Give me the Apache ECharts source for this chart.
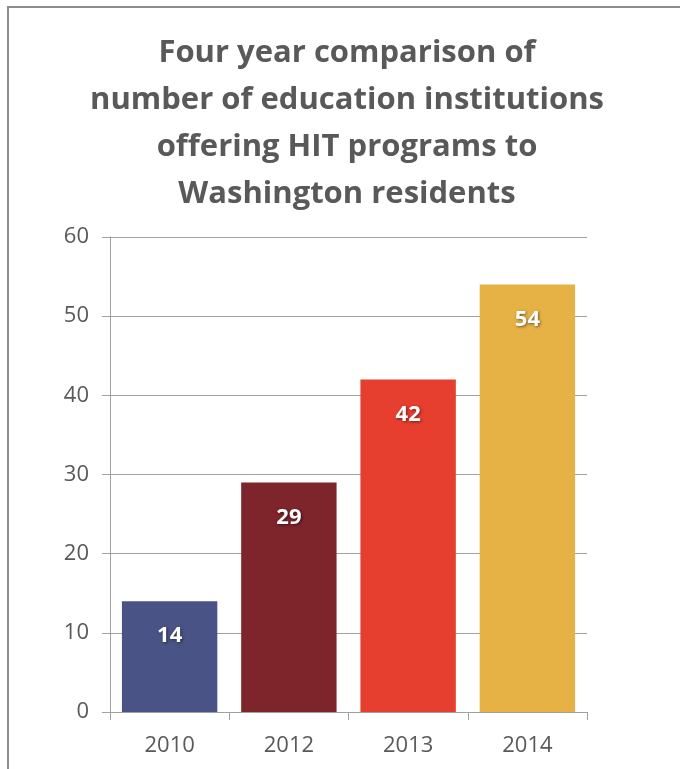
<!DOCTYPE html>
<html><head><meta charset="utf-8">
<script src="https://cdn.jsdelivr.net/npm/echarts@6/dist/echarts.min.js"></script>
<style>html,body{margin:0;padding:0;background:#fff}#c{width:680px;height:769px}</style>
</head><body><div id="c"></div>
<script>
const categories = ['2010', '2012', '2013', '2014'];
const values = [14, 29, 42, 54];
const barColors = ['#4A5386', '#7E252B', '#E63E2F', '#E6B245'];
const yTicks = [0, 10, 20, 30, 40, 50, 60];
const titleText = 'Four year comparison of\nnumber of education institutions\noffering HIT programs to\nWashington residents';

const chart = echarts.init(document.getElementById('c'), null, {renderer: 'canvas'});
chart.setOption({
  animation: false,
  graphic: [{
    type: 'rect', shape: {x: 8, y: 7, width: 800, height: 900},
    style: {fill: 'none', stroke: '#8c8c8c', lineWidth: 2}, silent: true, z: -1
  }],
  title: {
    text: titleText, left: 342, top: 25, textAlign: 'center',
    textStyle: {fontFamily: 'Open Sans', fontWeight: 'bold', fontSize: 31, lineHeight: 47, color: '#595959'}
  },
  grid: {left: 110, right: 93, top: 237, bottom: 57},
  xAxis: {
    type: 'category', data: categories,
    axisLine: {lineStyle: {color: '#a0a0a0', width: 1}},
    axisTick: {show: true, length: 8, lineStyle: {color: '#a0a0a0'}},
    axisLabel: {color: '#595959', fontSize: 22, fontFamily: 'Open Sans', margin: 23}
  },
  yAxis: {
    type: 'value', min: yTicks[0], max: yTicks[yTicks.length - 1], interval: 10,
    axisLine: {show: true, lineStyle: {color: '#a0a0a0', width: 1}},
    axisTick: {show: true, length: 8, lineStyle: {color: '#a0a0a0'}},
    splitLine: {lineStyle: {color: '#a0a0a0', width: 1}},
    axisLabel: {color: '#595959', fontSize: 22, fontFamily: 'Open Sans', margin: 21}
  },
  series: [{
    type: 'bar', barCategoryGap: '20%',
    data: values.map((v, i) => ({value: v, itemStyle: {color: barColors[i]}})),
    label: {
      show: true, position: 'insideTop', distance: 24, color: '#fff',
      fontFamily: 'Open Sans', fontWeight: 'bold', fontSize: 22,
      textShadowColor: 'rgba(0,0,0,0.5)', textShadowBlur: 3, textShadowOffsetX: 1, textShadowOffsetY: 1
    }
  }]
});
</script></body></html>
